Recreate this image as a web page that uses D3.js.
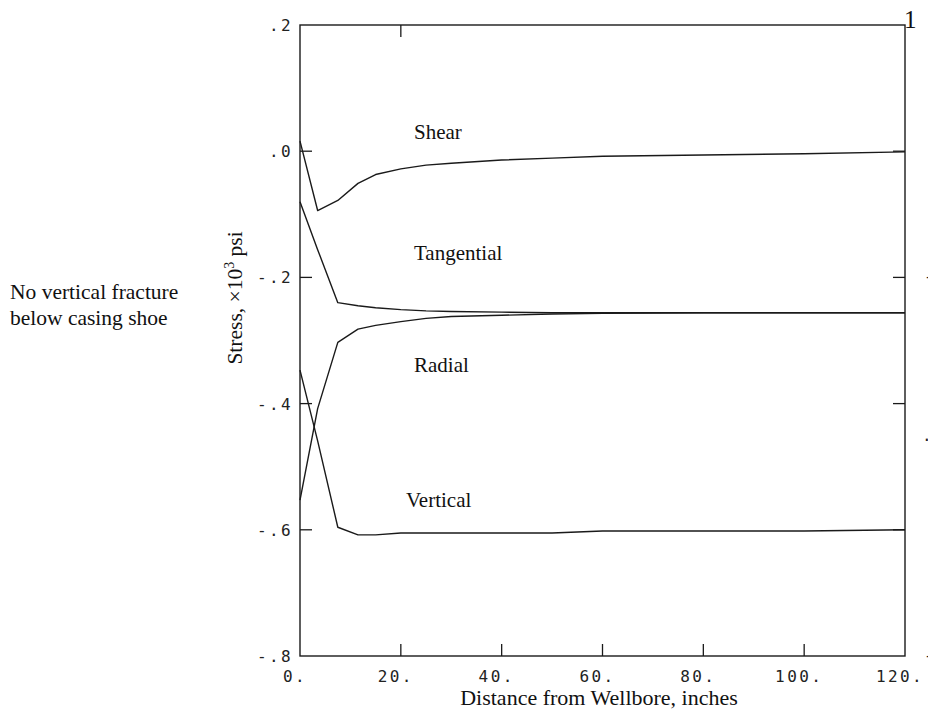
<!DOCTYPE html>
<html>
<head>
<meta charset="utf-8">
<script src="https://cdn.jsdelivr.net/npm/d3@7"></script>
<style>
  html, body { margin: 0; padding: 0; background: #fff; }
  svg { display: block; }
  .serif { font-family: "Liberation Serif", "Times New Roman", serif; fill: #111; }
  .mono { font-family: "DejaVu Sans Mono", monospace; fill: #222; }
</style>
</head>
<body>
<svg id="chart" width="928" height="711"></svg>
<script>
// Distance from wellbore (inches) at which stresses were computed
const distance   = [0, 3.5, 7.5, 11.5, 15, 20, 25, 30, 40, 50, 60, 80, 100, 120];
// Stress components, x10^3 psi
const shear      = [0.016, -0.094, -0.078, -0.051, -0.037, -0.028, -0.022, -0.019, -0.014, -0.011, -0.008, -0.006, -0.004, -0.001];
const tangential = [-0.080, -0.156, -0.240, -0.245, -0.248, -0.251, -0.253, -0.254, -0.255, -0.256, -0.256, -0.256, -0.256, -0.256];
const radial     = [-0.553, -0.408, -0.303, -0.282, -0.276, -0.270, -0.265, -0.262, -0.260, -0.258, -0.257, -0.256, -0.256, -0.256];
const vertical   = [-0.347, -0.459, -0.596, -0.608, -0.608, -0.605, -0.605, -0.605, -0.605, -0.605, -0.602, -0.602, -0.602, -0.600];

const seriesNames = ["Shear", "Tangential", "Radial", "Vertical"];
const seriesValues = [shear, tangential, radial, vertical];

// Axis ticks and their printed labels
const xTicks = [0, 20, 40, 60, 80, 100, 120];
const xTickLabels = ["0.", "20.", "40.", "60.", "80.", "100.", "120."];
const yTicks = [0.2, 0.0, -0.2, -0.4, -0.6, -0.8];
const yTickLabels = [".2", ".0", "-.2", "-.4", "-.6", "-.8"];

const svg = d3.select("#chart");
const x = d3.scaleLinear().domain([0, 120]).range([300, 905]);
const y = d3.scaleLinear().domain([-0.8, 0.2]).range([656, 25]);

const ink = "#1a1a1a";
const tickLen = 12;

// Frame
svg.append("rect")
  .attr("x", x(0)).attr("y", y(0.2))
  .attr("width", x(120) - x(0)).attr("height", y(-0.8) - y(0.2))
  .attr("fill", "none").attr("stroke", ink).attr("stroke-width", 1.4);

// Inward ticks: bottom (interior values), top (20 only), left and right
const ticks = svg.append("g").attr("stroke", ink).attr("stroke-width", 1.3);
xTicks.filter(d => d > 0 && d < 120).forEach(d => {
  ticks.append("line").attr("x1", x(d)).attr("x2", x(d))
    .attr("y1", y(-0.8)).attr("y2", y(-0.8) - tickLen);
});
ticks.append("line").attr("x1", x(20)).attr("x2", x(20))
  .attr("y1", y(0.2)).attr("y2", y(0.2) + tickLen);
yTicks.filter(v => v < 0.2 && v > -0.8).forEach(v => {
  ticks.append("line").attr("x1", x(0)).attr("x2", x(0) + tickLen)
    .attr("y1", y(v)).attr("y2", y(v));
  ticks.append("line").attr("x1", x(120)).attr("x2", x(120) - tickLen)
    .attr("y1", y(v)).attr("y2", y(v));
});

// Tick labels
svg.append("g").selectAll("text").data(xTicks).join("text")
  .attr("class", "mono")
  .attr("x", d => x(d) - 5)
  .attr("y", 682)
  .attr("text-anchor", "middle")
  .attr("font-size", 16)
  .attr("letter-spacing", 2.4)
  .text((d, i) => xTickLabels[i]);

svg.append("g").selectAll("text").data(yTicks).join("text")
  .attr("class", "mono")
  .attr("x", 293)
  .attr("y", d => y(d) + 6)
  .attr("text-anchor", "end")
  .attr("font-size", 16)
  .attr("letter-spacing", 2.4)
  .text((d, i) => yTickLabels[i]);

// Curves
const line = d3.line()
  .x((d, i) => x(distance[i]))
  .y(d => y(d));

svg.append("g").selectAll("path").data(seriesValues).join("path")
  .attr("d", d => line(d))
  .attr("fill", "none")
  .attr("stroke", ink)
  .attr("stroke-width", 1.4)
  .attr("stroke-linejoin", "round");

// Curve names
const nameSpots = [
  { x: 414, y: 139 },
  { x: 414, y: 260 },
  { x: 414, y: 372 },
  { x: 406, y: 507 }
];
svg.append("g").selectAll("text").data(seriesNames).join("text")
  .attr("class", "serif")
  .attr("x", (d, i) => nameSpots[i].x)
  .attr("y", (d, i) => nameSpots[i].y)
  .attr("font-size", 21)
  .text(d => d);

// Axis titles
svg.append("text")
  .attr("class", "serif")
  .attr("x", 599).attr("y", 705)
  .attr("text-anchor", "middle")
  .attr("font-size", 22)
  .text("Distance from Wellbore, inches");

const yTitle = svg.append("text")
  .attr("class", "serif")
  .attr("transform", "translate(242,298) rotate(-90)")
  .attr("text-anchor", "middle")
  .attr("font-size", 21.5);
yTitle.append("tspan").text("Stress, \u00d710");
yTitle.append("tspan").attr("font-size", 14).attr("dy", -8).text("3");
yTitle.append("tspan").attr("dy", 8).text(" psi");

// Side note
const note = svg.append("text").attr("class", "serif").attr("font-size", 21.5);
note.append("tspan").attr("x", 10).attr("y", 299).text("No vertical fracture");
note.append("tspan").attr("x", 10).attr("y", 325).text("below casing shoe");

// Edge of the neighbouring panel's scale, cut off by the page border
svg.append("text").attr("class", "serif").attr("x", 904).attr("y", 28)
  .attr("font-size", 25).text("1");
svg.append("text").attr("class", "mono").attr("x", 924).attr("y", 282)
  .attr("font-size", 16).text("-");
svg.append("text").attr("class", "mono").attr("x", 922).attr("y", 441)
  .attr("font-size", 16).text(".");
svg.append("text").attr("class", "mono").attr("x", 924).attr("y", 661)
  .attr("font-size", 16).text("-");
</script>
</body>
</html>
